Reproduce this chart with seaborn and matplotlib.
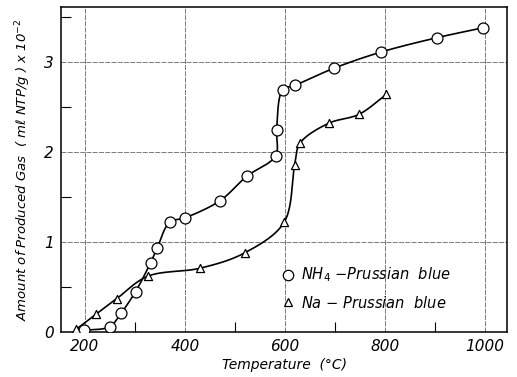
import numpy as np
import pandas as pd
import matplotlib
matplotlib.use("Agg")
import matplotlib.pyplot as plt
from matplotlib.lines import Line2D
from matplotlib.ticker import MultipleLocator
import seaborn as sns

# ---- data ----
nh4_temp = [198, 249, 272, 301, 331, 344, 369, 400, 470, 523, 581, 583, 595, 619, 697, 791, 903, 995]
nh4_gas = [0.02, 0.06, 0.21, 0.45, 0.77, 0.93, 1.22, 1.27, 1.46, 1.73, 1.96, 2.25, 2.69, 2.74, 2.93, 3.11, 3.27, 3.38]
na_temp = [182, 222, 263, 325, 430, 519, 598, 619, 630, 687, 748, 802]
na_gas = [0.03, 0.20, 0.37, 0.62, 0.71, 0.88, 1.22, 1.86, 2.10, 2.32, 2.42, 2.64]
x_ticks = [200, 400, 600, 800, 1000]
y_ticks = [0, 1, 2, 3]
labels = ["NH$_4$ $-$Prussian  blue", "Na $-$ Prussian  blue"]


def catmull_rom(x, y, sx=0.5, sy=90.0, n=40):
    """Centripetal Catmull-Rom curve through the data points (display-like scaling)."""
    P = np.column_stack([np.asarray(x, float) * sx, np.asarray(y, float) * sy])
    P = np.vstack([2 * P[0] - P[1], P, 2 * P[-1] - P[-2]])
    out = []
    for i in range(1, len(P) - 2):
        p0, p1, p2, p3 = P[i - 1], P[i], P[i + 1], P[i + 2]
        t0 = 0.0
        t1 = t0 + np.linalg.norm(p1 - p0) ** 0.5
        t2 = t1 + np.linalg.norm(p2 - p1) ** 0.5
        t3 = t2 + np.linalg.norm(p3 - p2) ** 0.5
        t = np.linspace(t1, t2, n)[:, None]
        a1 = (t1 - t) / (t1 - t0) * p0 + (t - t0) / (t1 - t0) * p1
        a2 = (t2 - t) / (t2 - t1) * p1 + (t - t1) / (t2 - t1) * p2
        a3 = (t3 - t) / (t3 - t2) * p2 + (t - t2) / (t3 - t2) * p3
        b1 = (t2 - t) / (t2 - t0) * a1 + (t - t0) / (t2 - t0) * a2
        b2 = (t3 - t) / (t3 - t1) * a2 + (t - t1) / (t3 - t1) * a3
        c = (t2 - t) / (t2 - t1) * b1 + (t - t1) / (t2 - t1) * b2
        out.append(c)
    C = np.vstack(out)
    return C[:, 0] / sx, C[:, 1] / sy


sns.set_style("white")
plt.rcParams['font.family'] = ['DejaVu Sans']
for k in ["text.color", "axes.labelcolor", "xtick.color", "ytick.color"]:
    plt.rcParams[k] = "black"

fig = plt.figure(figsize=(5.17, 3.77), dpi=100)
ax = fig.add_axes([0.118, 0.119, 0.863, 0.862])

df_nh4 = pd.DataFrame({"T": nh4_temp, "G": nh4_gas})
df_na = pd.DataFrame({"T": na_temp, "G": na_gas})

cx1, cy1 = catmull_rom(nh4_temp, nh4_gas)
cx2, cy2 = catmull_rom(na_temp, na_gas)
c1 = pd.DataFrame({"T": cx1, "G": cy1})
c2 = pd.DataFrame({"T": cx2, "G": cy2})

sns.lineplot(data=c1, x="T", y="G", ax=ax, color="black", lw=1.2, sort=False, zorder=3)
sns.lineplot(data=c2, x="T", y="G", ax=ax, color="black", lw=1.2, sort=False, zorder=3)
sns.scatterplot(data=df_nh4, x="T", y="G", ax=ax, marker="o", s=62,
                facecolor="white", edgecolor="black", linewidth=0.9, zorder=4)
sns.scatterplot(data=df_na, x="T", y="G", ax=ax, marker="^", s=34,
                facecolor="white", edgecolor="black", linewidth=0.9, zorder=4)

ax.set_xlim(152, 1044)
ax.set_ylim(0, 3.61)
ax.set_xticks(x_ticks)
ax.set_xticklabels([str(v) for v in x_ticks], fontstyle="italic", fontsize=11)
ax.set_yticks(y_ticks)
ax.set_yticklabels([str(v) for v in y_ticks], fontstyle="italic", fontsize=11)
ax.xaxis.set_minor_locator(MultipleLocator(100))
ax.yaxis.set_minor_locator(MultipleLocator(0.5))
ax.tick_params(which="both", direction="in", length=0, pad=5)
ax.tick_params(which="minor", left=True, bottom=True, length=7, width=0.8, color="black")
ax.grid(True, which="major", color="#666666", lw=0.6, ls=(0, (6, 1.5)))
for s in ax.spines.values():
    s.set_color("black"); s.set_linewidth(1.1); s.set_visible(True)

ax.set_xlabel("Temperature  (°C)", fontstyle="italic", fontsize=10, labelpad=3)
ax.set_ylabel("Amount of Produced Gas  ( mℓ NTP/g ) x 10$^{-2}$", fontstyle="italic",
              fontsize=9.5, labelpad=8)

handles = [Line2D([], [], marker="o", ls="none", mfc="white", mec="black", ms=7.5, mew=0.9),
           Line2D([], [], marker="^", ls="none", mfc="white", mec="black", ms=5.5, mew=0.9)]
ax.legend(handles, labels, loc="upper left", bbox_to_anchor=(0.47, 0.245), frameon=False,
          handlelength=0.6, handletextpad=0.6, labelspacing=0.7,
          prop={"style": "italic", "size": 10.5})

fig.savefig("out.png", dpi=100)
